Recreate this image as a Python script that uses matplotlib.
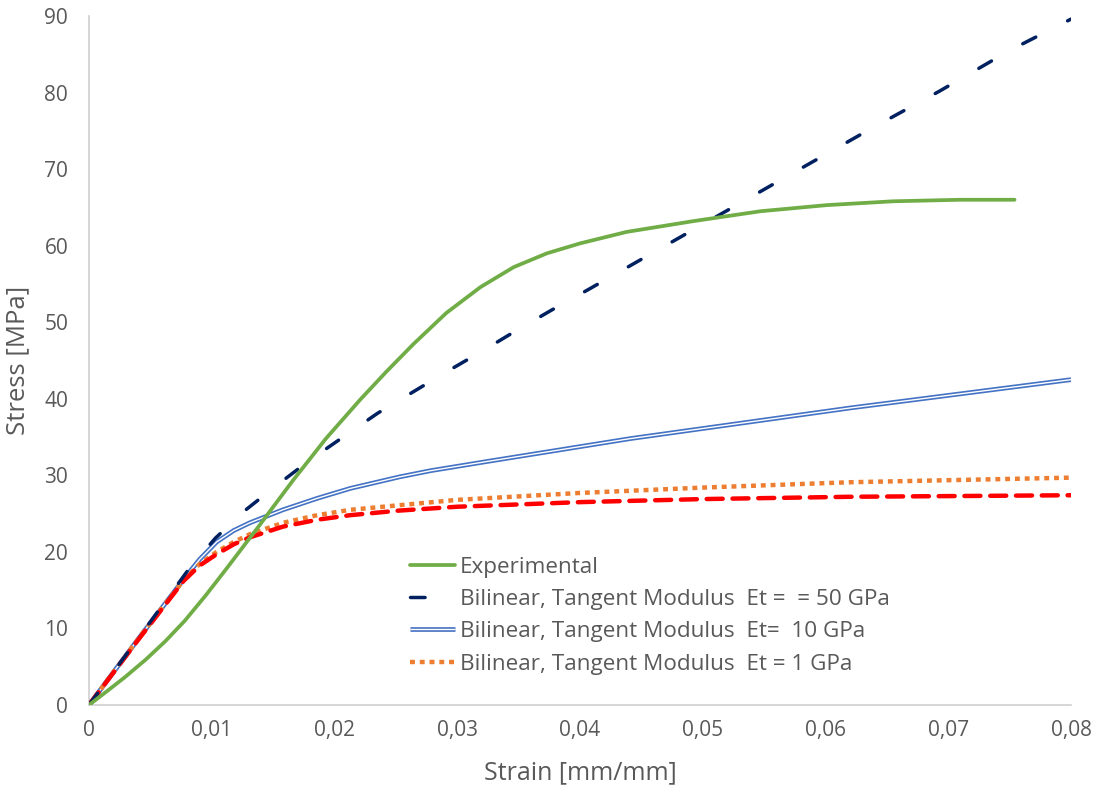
import matplotlib
matplotlib.use("Agg")
import matplotlib.pyplot as plt
from matplotlib.legend_handler import HandlerTuple
from matplotlib.ticker import FuncFormatter, MultipleLocator

plt.rcParams['font.family'] = ['Open Sans', 'DejaVu Sans']

# Experimental stress-strain curve
strain_exp = [0, 0.0013, 0.0029, 0.0046, 0.0062, 0.0078, 0.0095, 0.0111, 0.0139,
              0.0166, 0.0193, 0.0221, 0.0242, 0.0264, 0.0291, 0.0319, 0.0346,
              0.0373, 0.0400, 0.0438, 0.0492, 0.0547, 0.0601, 0.0655, 0.0710, 0.0754]
stress_exp = [0, 1.6, 3.6, 5.9, 8.3, 11.0, 14.3, 17.6, 23.5,
              29.3, 34.8, 39.9, 43.5, 47.1, 51.2, 54.6, 57.2,
              59.0, 60.3, 61.8, 63.2, 64.5, 65.3, 65.8, 66.0, 66.0]

# Bilinear model, Et = 50 GPa
strain_50 = [0, 0.0041, 0.0082, 0.0103, 0.0127, 0.0153, 0.0180, 0.0207, 0.0235,
             0.0263, 0.0291, 0.0320, 0.0348, 0.0377, 0.0406, 0.0464, 0.0521,
             0.0579, 0.0635, 0.0693, 0.0750, 0.0800]
stress_50 = [0, 8.9, 17.9, 21.8, 25.4, 28.7, 32.0, 35.0, 38.1,
             40.8, 43.5, 46.2, 48.9, 51.6, 54.2, 59.5, 64.7,
             70.0, 75.1, 80.2, 85.5, 89.6]

# Bilinear model, Et = 10 GPa
strain_10 = [0, 0.0040, 0.0077, 0.0090, 0.0104, 0.0118, 0.0131, 0.0158, 0.0186,
             0.0213, 0.0253, 0.0278, 0.0320, 0.0441, 0.0620, 0.0800]
stress_10 = [0, 8.6, 16.4, 19.0, 21.3, 22.8, 23.8, 25.5, 27.0,
             28.3, 29.8, 30.6, 31.7, 34.8, 38.8, 42.5]

# Bilinear model, Et = 1 GPa
strain_1 = [0, 0.0040, 0.0077, 0.0090, 0.0104, 0.0118, 0.0131, 0.0158, 0.0186,
            0.0213, 0.0253, 0.0300, 0.0400, 0.0500, 0.0620, 0.0800]
stress_1 = [0, 8.6, 16.3, 18.4, 20.0, 21.3, 22.3, 23.8, 24.8,
            25.5, 26.1, 26.8, 27.7, 28.4, 29.1, 29.7]

# Additional bilinear response (unlabelled)
strain_b = [0, 0.0040, 0.0077, 0.0090, 0.0104, 0.0118, 0.0131, 0.0158, 0.0186,
            0.0213, 0.0253, 0.0300, 0.0400, 0.0500, 0.0620, 0.0800]
stress_b = [0, 8.5, 16.2, 18.2, 19.7, 21.0, 21.9, 23.3, 24.2,
            24.8, 25.4, 25.9, 26.5, 26.9, 27.2, 27.4]

labels = ["Experimental",
          "Bilinear, Tangent Modulus  Et =  = 50 GPa",
          "Bilinear, Tangent Modulus  Et=  10 GPa",
          "Bilinear, Tangent Modulus  Et = 1 GPa"]
x_ticks = [0, 0.01, 0.02, 0.03, 0.04, 0.05, 0.06, 0.07, 0.08]

GREEN = "#70AD47"
NAVY = "#002060"
BLUE = "#4472C4"
ORANGE = "#ED7D31"
RED = "#FF0000"
TEXT = "#595959"
AXIS = "#D0D0D0"

fig = plt.figure(figsize=(10.96, 7.90), dpi=100)
ax = fig.add_axes([0.0812, 0.1076, 0.896, 0.8721])

# double line: thick blue with a thin white core
l10a, = ax.plot(strain_10, stress_10, color=BLUE, lw=3.4, solid_capstyle='butt',
                solid_joinstyle='round', zorder=3)
l10b, = ax.plot(strain_10, stress_10, color="white", lw=1.0, solid_capstyle='butt',
                solid_joinstyle='round', zorder=3.1)
l1, = ax.plot(strain_1, stress_1, color=ORANGE, lw=3.2, linestyle=(0, (1.1, 1.1)),
              dash_capstyle='butt', zorder=4)
ax.plot(strain_b, stress_b, color=RED, lw=3.2, linestyle=(0, (3.6, 2.2)),
        dash_capstyle='round', zorder=5)
l50, = ax.plot(strain_50, stress_50, color=NAVY, lw=2.5, linestyle=(0, (4.2, 10.3)),
               dash_capstyle='round', zorder=6)
lexp, = ax.plot(strain_exp, stress_exp, color=GREEN, lw=2.7, solid_capstyle='round',
                solid_joinstyle='round', zorder=7)

ax.set_xlim(0, 0.08)
ax.set_ylim(0, 90)
ax.yaxis.set_major_locator(MultipleLocator(10))
ax.set_xticks(x_ticks)
ax.xaxis.set_major_formatter(FuncFormatter(
    lambda v, p: "0" if abs(v) < 1e-12 else f"{v:.2f}".replace(".", ",")))

for side in ("top", "right"):
    ax.spines[side].set_visible(False)
for side in ("left", "bottom"):
    ax.spines[side].set_color(AXIS)
    ax.spines[side].set_linewidth(1.2)
ax.tick_params(axis='both', length=0, labelsize=15, colors=TEXT)
ax.tick_params(axis='x', pad=11)
ax.tick_params(axis='y', pad=15)

ax.set_xlabel("Strain [mm/mm]", fontsize=18, color=TEXT, labelpad=14)
ax.set_ylabel("Stress [MPa]", fontsize=18.5, color=TEXT, labelpad=10)

leg = ax.legend([lexp, l50, (l10a, l10b), l1], labels,
                handler_map={tuple: HandlerTuple(ndivide=1, pad=0)},
                loc='upper left', bbox_to_anchor=(0.327, 0.215),
                frameon=False, fontsize=16.2, handlelength=2.0, handletextpad=0.2,
                labelspacing=0.50, borderaxespad=0, borderpad=0)
for t in leg.get_texts():
    t.set_color(TEXT)

fig.savefig("out.png", dpi=100)
